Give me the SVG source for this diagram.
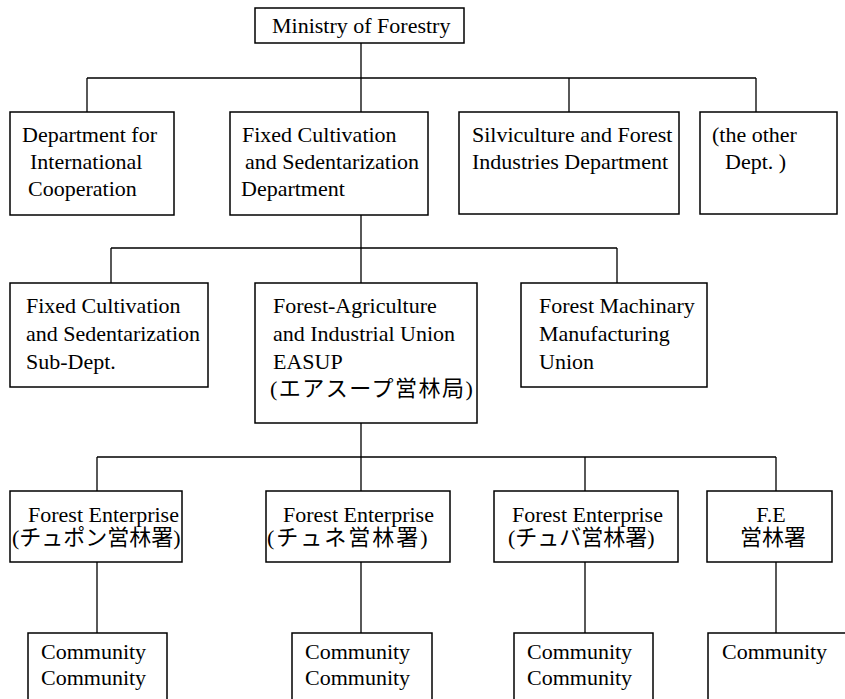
<svg xmlns="http://www.w3.org/2000/svg" width="845" height="699" viewBox="0 0 845 699">
<style>
.box{fill:#fff;stroke:#000;stroke-width:1.5}
.ln{fill:none;stroke:#000;stroke-width:1.3}
text{font-family:'Liberation Serif','Times New Roman',Tinos,'DejaVu Serif',serif;font-size:22px;fill:#000}
.cjk{font-family:'Liberation Serif','Noto Sans CJK JP','Noto Sans CJK SC',serif}
.mid{text-anchor:middle}
</style>
<rect width="845" height="699" fill="#fff"/>
<g id="connectors" class="ln">
<path d="M361 43V78M87 78H756M87 78V112M361 78V112M569 78V112M756 78V112"/>
<path d="M361 215V248M111 248H617M111 248V283M361 248V283M617 248V283"/>
<path d="M361 423V457M97 457H776M97 457V491M361 457V491M585 457V491M776 457V491"/>
<path d="M97 562V633M361 562V633M585 562V633M776 562V633"/>
</g>
<g id="ministry">
<rect class="box" x="255" y="8" width="209" height="35"/>
<text x="272" y="33">Ministry of Forestry</text>
</g>
<g id="dept-intl">
<rect class="box" x="10" y="112" width="164" height="103"/>
<text x="22" y="142">Department for</text>
<text x="30" y="169">International</text>
<text x="28" y="196">Cooperation</text>
</g>
<g id="dept-fixed">
<rect class="box" x="230" y="112" width="198" height="103"/>
<text x="242" y="142">Fixed Cultivation</text>
<text x="245" y="169">and Sedentarization</text>
<text x="241" y="196">Department</text>
</g>
<g id="dept-silvi">
<rect class="box" x="459" y="112" width="220" height="102"/>
<text x="472" y="142">Silviculture and Forest</text>
<text x="472" y="169">Industries Department</text>
</g>
<g id="dept-other">
<rect class="box" x="700" y="112" width="137" height="102"/>
<text x="712" y="142">(the other</text>
<text x="725" y="169">Dept. )</text>
</g>
<g id="subdept">
<rect class="box" x="10" y="283" width="198" height="104"/>
<text x="26" y="313">Fixed Cultivation</text>
<text x="26" y="341">and Sedentarization</text>
<text x="26" y="369">Sub-Dept.</text>
</g>
<g id="easup">
<rect class="box" x="255" y="283" width="222" height="140"/>
<text x="273" y="313">Forest-Agriculture</text>
<text x="273" y="341">and Industrial Union</text>
<text x="273" y="369">EASUP</text>
<text class="cjk" x="270" y="396" letter-spacing="1.5">(エアスープ営林局)</text>
</g>
<g id="machinery">
<rect class="box" x="521" y="283" width="186" height="104"/>
<text x="539" y="313">Forest Machinary</text>
<text x="539" y="341">Manufacturing</text>
<text x="539" y="369">Union</text>
</g>
<g id="fe1">
<rect class="box" x="10" y="491" width="172" height="71"/>
<text x="28" y="522">Forest Enterprise</text>
<text class="cjk" x="12" y="545">(チュポン営林署)</text>
</g>
<g id="fe2">
<rect class="box" x="266" y="491" width="184" height="71"/>
<text x="283" y="522">Forest Enterprise</text>
<text class="cjk" x="267" y="545" letter-spacing="2">(チュネ営林署)</text>
</g>
<g id="fe3">
<rect class="box" x="494" y="491" width="184" height="71"/>
<text x="512" y="522">Forest Enterprise</text>
<text class="cjk" x="508" y="545">(チュバ営林署)</text>
</g>
<g id="fe4">
<rect class="box" x="707" y="491" width="125" height="71"/>
<text class="mid" x="771" y="522">F.E</text>
<text class="cjk mid" x="773" y="545">営林署</text>
</g>
<g id="comm1">
<rect class="box" x="28" y="633" width="139" height="90"/>
<text x="41" y="659">Community</text>
<text x="41" y="685">Community</text>
</g>
<g id="comm2">
<rect class="box" x="292" y="633" width="140" height="90"/>
<text x="305" y="659">Community</text>
<text x="305" y="685">Community</text>
</g>
<g id="comm3">
<rect class="box" x="514" y="633" width="139" height="90"/>
<text x="527" y="659">Community</text>
<text x="527" y="685">Community</text>
</g>
<g id="comm4">
<rect class="box" x="708" y="633" width="160" height="90"/>
<text x="722" y="659">Community</text>
</g>
</svg>
